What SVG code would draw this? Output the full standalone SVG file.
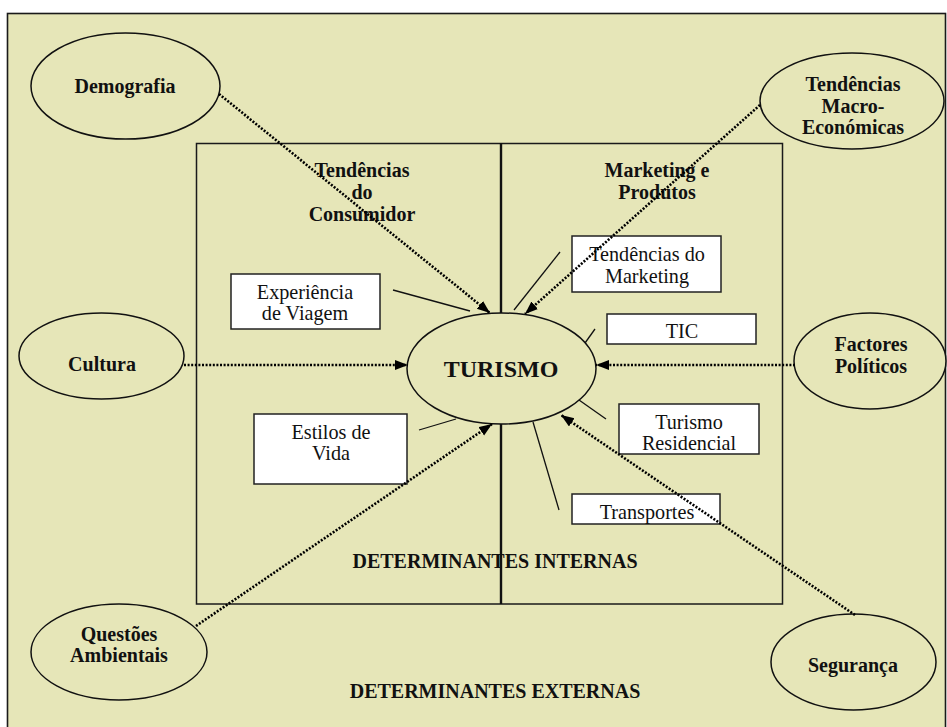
<svg xmlns="http://www.w3.org/2000/svg" width="947" height="727" viewBox="0 0 947 727">
  <style>
    .bg { fill: #E6E6B8; stroke: #1a1a1a; stroke-width: 1.6; }
    .frame { fill: none; stroke: #1a1a1a; stroke-width: 1.5; }
    .divider { stroke: #111; stroke-width: 2.4; }
    .oval { fill: #E6E6B8; stroke: #111; stroke-width: 1.5; }
    .box { fill: #fff; stroke: #222; stroke-width: 1.5; }
    .bold { font-family: "Liberation Serif", "Times New Roman", serif; font-weight: bold; font-size: 20px; fill: #111; text-anchor: middle; }
    .reg { font-family: "Liberation Serif", "Times New Roman", serif; font-size: 20.2px; fill: #111; text-anchor: middle; }
    .big { font-family: "Liberation Serif", "Times New Roman", serif; font-weight: bold; font-size: 24px; fill: #111; text-anchor: middle; }
    .dotted { stroke: #000; stroke-width: 2.6; stroke-dasharray: 2 1.6; fill: none; }
    .solid { stroke: #111; stroke-width: 1.3; fill: none; }
  </style>
  <defs>
    <marker id="arrow" markerUnits="userSpaceOnUse" markerWidth="14" markerHeight="11" refX="13" refY="5" orient="auto">
      <path d="M0,0 L13,5 L0,10 z" fill="#000"/>
    </marker>
  </defs>

  <!-- outer area: external determinants -->
  <rect class="bg" x="7.5" y="13.5" width="938" height="725"/>

  <!-- inner area: internal determinants, split in two halves -->
  <g id="internas">
    <rect class="frame" x="196.5" y="143.5" width="586" height="460.5"/>
    <line class="divider" x1="501" y1="143" x2="501" y2="604"/>
    <text class="bold" x="362" y="177">Tendências</text>
    <text class="bold" x="362" y="199">do</text>
    <text class="bold" x="362" y="221">Consumidor</text>
    <text class="bold" x="657" y="177">Marketing e</text>
    <text class="bold" x="657" y="199">Produtos</text>
    <text class="bold" x="495" y="568">DETERMINANTES INTERNAS</text>
  </g>

  <text class="bold" x="495" y="698">DETERMINANTES EXTERNAS</text>

  <!-- central node -->
  <g id="turismo">
    <ellipse class="oval" cx="501.5" cy="368.5" rx="94.5" ry="55.5"/>
    <text class="big" x="501" y="377">TURISMO</text>
  </g>

  <!-- internal factor boxes -->
  <g id="experiencia">
    <rect class="box" x="231" y="274" width="149" height="55"/>
    <text class="reg" x="305" y="299">Experiência</text>
    <text class="reg" x="305" y="320">de Viagem</text>
  </g>
  <g id="estilos">
    <rect class="box" x="254" y="414" width="153" height="70"/>
    <text class="reg" x="331" y="439">Estilos de</text>
    <text class="reg" x="331" y="460">Vida</text>
  </g>
  <g id="tend-marketing">
    <rect class="box" x="572" y="236" width="149" height="56"/>
    <text class="reg" x="647" y="261">Tendências do</text>
    <text class="reg" x="647" y="283">Marketing</text>
  </g>
  <g id="tic">
    <rect class="box" x="607" y="314" width="149" height="30"/>
    <text class="reg" x="682" y="338">TIC</text>
  </g>
  <g id="turismo-residencial">
    <rect class="box" x="619" y="404" width="140" height="50"/>
    <text class="reg" x="689" y="429">Turismo</text>
    <text class="reg" x="689" y="450">Residencial</text>
  </g>
  <g id="transportes">
    <rect class="box" x="572" y="494" width="148" height="30"/>
    <text class="reg" x="647" y="519">Transportes</text>
  </g>

  <!-- external factor ovals -->
  <g id="demografia">
    <ellipse class="oval" cx="125.5" cy="86" rx="94.5" ry="53"/>
    <text class="bold" x="125" y="93">Demografia</text>
  </g>
  <g id="macro">
    <ellipse class="oval" cx="852" cy="101" rx="92" ry="48"/>
    <text class="bold" x="853" y="91">Tendências</text>
    <text class="bold" x="853" y="113">Macro-</text>
    <text class="bold" x="853" y="134">Económicas</text>
  </g>
  <g id="cultura">
    <ellipse class="oval" cx="101.5" cy="356" rx="82.5" ry="43"/>
    <text class="bold" x="102" y="371">Cultura</text>
  </g>
  <g id="politicos">
    <ellipse class="oval" cx="870" cy="361" rx="76" ry="48"/>
    <text class="bold" x="871" y="351">Factores</text>
    <text class="bold" x="871" y="373">Políticos</text>
  </g>
  <g id="ambientais">
    <ellipse class="oval" cx="119" cy="652" rx="88" ry="48"/>
    <text class="bold" x="119" y="641">Questões</text>
    <text class="bold" x="119" y="662">Ambientais</text>
  </g>
  <g id="seguranca">
    <ellipse class="oval" cx="853.5" cy="662" rx="82.5" ry="48"/>
    <text class="bold" x="853" y="672">Segurança</text>
  </g>

  <!-- connectors -->
  <g id="connectors">
    <!-- internal factors: plain strokes towards the centre -->
    <line class="solid" x1="393" y1="290" x2="470" y2="311"/>
    <line class="solid" x1="419" y1="430" x2="456" y2="419"/>
    <line class="solid" x1="560" y1="252" x2="514" y2="310"/>
    <line class="solid" x1="595" y1="329" x2="585" y2="343"/>
    <line class="solid" x1="579" y1="400" x2="606" y2="419"/>
    <line class="solid" x1="533" y1="422" x2="559" y2="510"/>
    <!-- external factors: dotted arrows into the centre -->
    <line class="dotted" x1="219" y1="94" x2="490" y2="313" marker-end="url(#arrow)"/>
    <line class="dotted" x1="760" y1="105" x2="525" y2="314" marker-end="url(#arrow)"/>
    <line class="dotted" x1="184" y1="365" x2="408" y2="365" marker-end="url(#arrow)"/>
    <line class="dotted" x1="795" y1="365" x2="596" y2="365" marker-end="url(#arrow)"/>
    <line class="dotted" x1="196" y1="626" x2="492" y2="424" marker-end="url(#arrow)"/>
    <line class="dotted" x1="855" y1="615" x2="561" y2="415" marker-end="url(#arrow)"/>
  </g>
</svg>
